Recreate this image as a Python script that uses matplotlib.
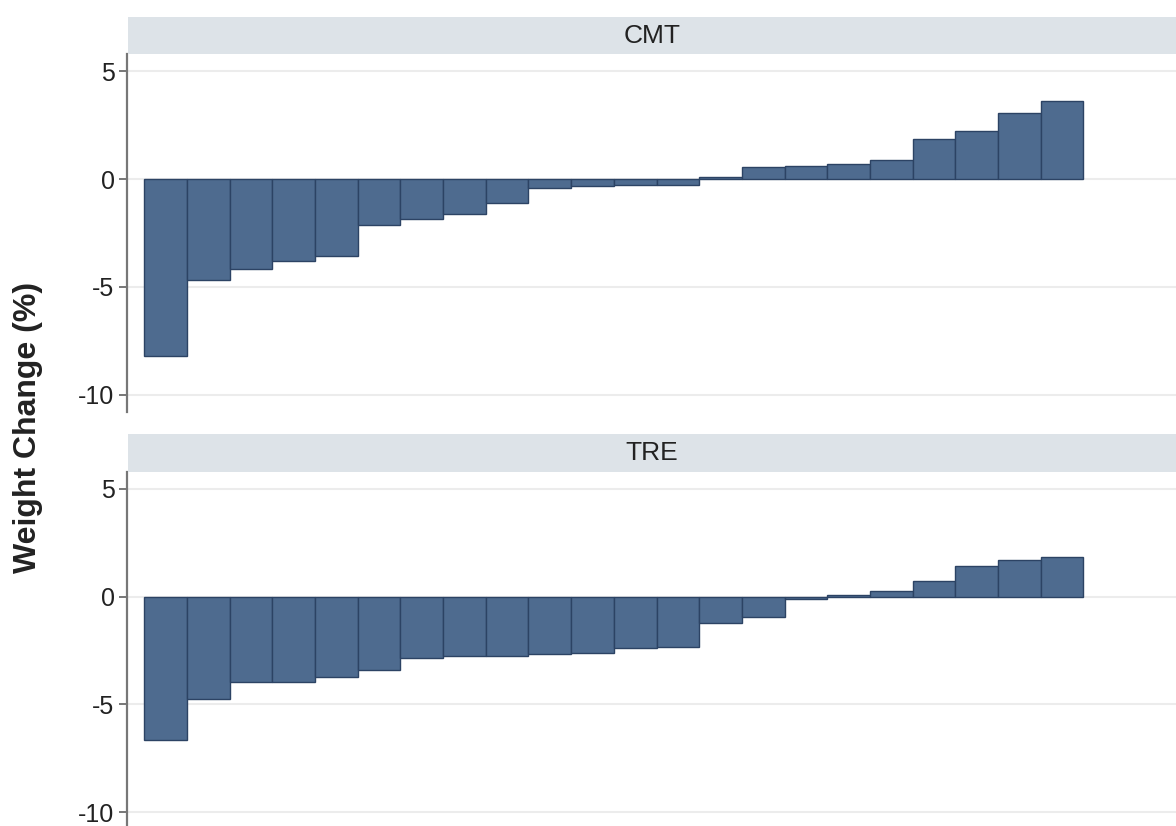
import matplotlib
matplotlib.use("Agg")
import matplotlib.pyplot as plt
import numpy as np

plt.rcParams['font.family'] = ['Liberation Sans', 'DejaVu Sans']

# weight change per participant, sorted
groups = ['CMT', 'TRE']
cmt = [-8.22, -4.69, -4.19, -3.82, -3.56, -2.12, -1.84, -1.62, -1.10, -0.43, -0.31,
       -0.29, -0.27, 0.11, 0.55, 0.61, 0.72, 0.88, 1.86, 2.22, 3.08, 3.61]
tre = [-6.67, -4.77, -3.98, -3.96, -3.75, -3.40, -2.85, -2.76, -2.74, -2.68, -2.63,
       -2.37, -2.34, -1.22, -0.93, -0.13, 0.07, 0.27, 0.74, 1.44, 1.69, 1.83]
yticks = [5, 0, -5, -10]

bar_col = '#4e6b8f'
edge_col = '#2c4364'
strip_col = '#dde3e8'
grid_col = '#ececec'
spine_col = '#777777'

fig = plt.figure(figsize=(11.76, 8.26), dpi=100)

# axes boxes (fig fraction), strips sit on top of each panel
panels = [
    (groups[0], cmt, [0.108, 0.5016, 0.892, 0.4327], [0.1088, 0.9343, 0.8912, 0.0452]),
    (groups[1], tre, [0.108, -0.0038, 0.892, 0.4327], [0.1088, 0.4289, 0.8912, 0.0456]),
]

for name, vals, box, sbox in panels:
    ax = fig.add_axes(box)
    x = np.arange(1, len(vals) + 1)
    ax.bar(x, vals, width=1.0, color=bar_col, edgecolor=edge_col, linewidth=1.0, zorder=3)
    ax.set_xlim(0.095, 24.67)
    ax.set_ylim(-10.79, 5.79)
    ax.set_yticks(yticks)
    ax.set_yticklabels([str(t) for t in yticks], fontsize=18, color='#222222')
    ax.set_xticks([])
    for t in yticks:
        ax.axhline(t, color=grid_col, linewidth=1.5, zorder=1)
    for s in ['top', 'right', 'bottom']:
        ax.spines[s].set_visible(False)
    ax.spines['left'].set_color(spine_col)
    ax.spines['left'].set_linewidth(1.6)
    ax.tick_params(axis='y', length=6, width=1.4, color=spine_col, pad=3)

    sax = fig.add_axes(sbox)
    sax.set_facecolor(strip_col)
    sax.set_xticks([])
    sax.set_yticks([])
    for s in sax.spines.values():
        s.set_visible(False)
    sax.text(0.5, 0.5, name, ha='center', va='center', fontsize=19, color='#222222',
             transform=sax.transAxes)

fig.text(0.024, 0.482, 'Weight Change (%)', rotation=90, ha='center', va='center',
         fontsize=23, fontweight='bold', color='#222222')

fig.savefig('out.png', dpi=100)
